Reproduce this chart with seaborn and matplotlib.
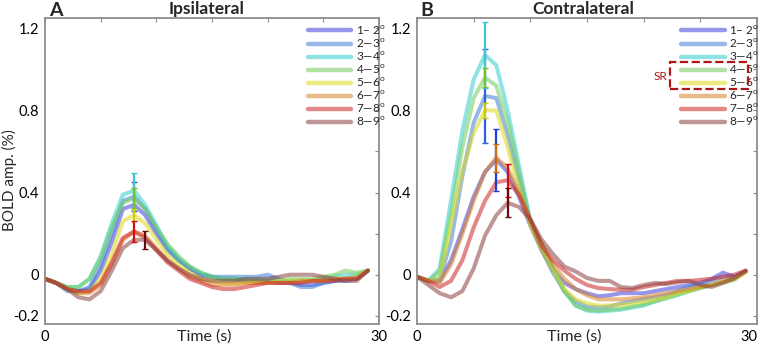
import numpy as np
import pandas as pd
import matplotlib
matplotlib.use("Agg")
import matplotlib.pyplot as plt
import seaborn as sns
from matplotlib.lines import Line2D
from matplotlib.patches import Rectangle

# ---------------- data ----------------
time = list(range(30))
bands = ["1-2", "2-3", "3-4", "4-5", "5-6", "6-7", "7-8", "8-9"]
legend_labels = ["1\u2013 2", "2\u20143", "3\u20144", "4\u20145", "5\u20146", "6\u20147", "7\u20148", "8\u20149"]

ipsi_12 = [-0.02,-0.04,-0.07,-0.08,-0.07,0.02,0.16,0.32,0.34,0.29, 0.20,0.12,0.07,0.03,0.00,-0.01,-0.02,-0.02,-0.03,-0.03, -0.03,-0.04,-0.04,-0.05,-0.05,-0.04,-0.03,-0.03,-0.02,0.02]
ipsi_23 = [-0.02,-0.04,-0.08,-0.08,-0.06,0.05,0.20,0.36,0.38,0.32, 0.22,0.13,0.07,0.03,0.00,-0.01,-0.01,-0.01,-0.01,-0.01, 0.00,-0.02,-0.04,-0.06,-0.06,-0.04,-0.03,-0.02,-0.01,0.02]
ipsi_34 = [-0.02,-0.04,-0.06,-0.06,-0.02,0.09,0.25,0.39,0.41,0.34, 0.24,0.14,0.08,0.04,0.01,-0.01,-0.02,-0.02,-0.02,-0.02, -0.02,-0.03,-0.03,-0.03,-0.03,-0.02,-0.01,0.00,0.00,0.02]
ipsi_45 = [-0.02,-0.04,-0.06,-0.06,-0.02,0.08,0.23,0.35,0.37,0.32, 0.23,0.15,0.09,0.04,0.01,-0.01,-0.02,-0.02,-0.03,-0.03, -0.03,-0.03,-0.02,-0.02,-0.02,-0.01,0.00,0.02,0.01,0.02]
ipsi_56 = [-0.02,-0.04,-0.07,-0.09,-0.08,-0.02,0.10,0.26,0.29,0.25, 0.17,0.10,0.05,0.01,-0.02,-0.03,-0.04,-0.04,-0.04,-0.04, -0.04,-0.03,-0.03,-0.03,-0.03,-0.03,-0.02,-0.02,-0.01,0.02]
ipsi_67 = [-0.02,-0.04,-0.07,-0.09,-0.09,-0.05,0.05,0.17,0.21,0.19, 0.13,0.07,0.03,-0.01,-0.03,-0.05,-0.05,-0.05,-0.04,-0.04, -0.04,-0.04,-0.04,-0.03,-0.03,-0.03,-0.02,-0.02,-0.02,0.02]
ipsi_78 = [-0.02,-0.04,-0.07,-0.08,-0.08,-0.04,0.06,0.18,0.21,0.18, 0.12,0.06,0.02,-0.02,-0.04,-0.06,-0.07,-0.07,-0.06,-0.05, -0.04,-0.04,-0.04,-0.04,-0.03,-0.03,-0.03,-0.02,-0.02,0.02]
ipsi_89 = [-0.02,-0.04,-0.07,-0.11,-0.12,-0.08,0.02,0.13,0.17,0.17, 0.12,0.07,0.03,0.00,-0.02,-0.03,-0.03,-0.03,-0.02,-0.02, -0.02,-0.01,0.00,0.00,0.00,-0.01,-0.02,-0.03,-0.03,0.02]

contra_12 = [-0.01,-0.03,-0.03,0.07,0.22,0.38,0.50,0.56,0.50,0.38, 0.24,0.12,0.02,-0.04,-0.07,-0.09,-0.105,-0.10,-0.09,-0.09, -0.09,-0.08,-0.07,-0.06,-0.05,-0.04,-0.02,0.01,-0.01,0.015]
contra_23 = [-0.01,-0.03,-0.02,0.16,0.48,0.74,0.87,0.86,0.68,0.46, 0.25,0.12,0.01,-0.08,-0.13,-0.155,-0.16,-0.155,-0.14,-0.13, -0.12,-0.11,-0.10,-0.08,-0.06,-0.045,-0.03,-0.01,-0.01,0.015]
contra_34 = [-0.01,-0.03,0.03,0.36,0.70,0.95,1.07,1.02,0.80,0.53, 0.26,0.15,0.03,-0.08,-0.15,-0.175,-0.18,-0.175,-0.17,-0.16, -0.15,-0.13,-0.115,-0.10,-0.08,-0.065,-0.05,-0.035,-0.02,0.015]
contra_45 = [-0.01,-0.03,0.015,0.29,0.62,0.86,0.96,0.92,0.74,0.50, 0.26,0.15,0.03,-0.08,-0.15,-0.17,-0.175,-0.17,-0.165,-0.155, -0.145,-0.13,-0.11,-0.095,-0.08,-0.065,-0.05,-0.04,-0.025,0.015]
contra_56 = [-0.01,-0.03,-0.02,0.24,0.50,0.69,0.80,0.80,0.62,0.42, 0.24,0.12,0.02,-0.07,-0.12,-0.14,-0.15,-0.15,-0.145,-0.14, -0.13,-0.12,-0.11,-0.09,-0.08,-0.06,-0.05,-0.035,-0.02,0.015]
contra_67 = [-0.01,-0.03,-0.04,0.05,0.20,0.36,0.50,0.57,0.52,0.40, 0.26,0.15,0.05,-0.02,-0.07,-0.10,-0.12,-0.12,-0.12,-0.115, -0.11,-0.10,-0.09,-0.08,-0.07,-0.06,-0.05,-0.03,-0.02,0.015]
contra_78 = [-0.01,-0.03,-0.06,-0.03,0.07,0.23,0.36,0.45,0.46,0.39, 0.27,0.14,0.07,0.02,-0.02,-0.05,-0.065,-0.07,-0.073,-0.073, -0.06,-0.05,-0.04,-0.03,-0.03,-0.025,-0.02,-0.01,0.00,0.02]
contra_89 = [-0.01,-0.05,-0.09,-0.11,-0.08,0.03,0.19,0.29,0.35,0.33, 0.27,0.17,0.10,0.04,0.016,-0.016,-0.03,-0.03,-0.06,-0.065, -0.05,-0.04,-0.045,-0.037,-0.03,-0.05,-0.06,-0.04,-0.016,0.02]

# error bars: band, time index, s.e.m.
ipsi_err_band = ["2-3", "3-4", "4-5", "5-6", "7-8", "8-9"]
ipsi_err_t    = [8, 8, 8, 8, 8, 9]
ipsi_err_sem  = [0.07, 0.085, 0.05, 0.03, 0.05, 0.045]
contra_err_band = ["2-3", "3-4", "4-5", "5-6", "1-2", "6-7", "7-8", "8-9"]
contra_err_t    = [6, 6, 6, 6, 7, 7, 8, 8]
contra_err_sem  = [0.23, 0.16, 0.045, 0.035, 0.15, 0.068, 0.08, 0.07]

# ---------------- styles ----------------
line_colors = ["#4040d9", "#4080d9", "#33cccc", "#73cc59", "#d9d91a", "#d98026", "#cc2626", "#8c4040"]
err_colors = {"1-2": "#1f3fd0", "2-3": "#2f5fdc", "3-4": "#40c4d0", "4-5": "#77c233",
              "5-6": "#d0c800", "6-7": "#d06a10", "7-8": "#cc1111", "8-9": "#6b0a0a"}

sns.set_style("white")
plt.rcParams["font.family"] = ["Lato", "DejaVu Sans"]
plt.rcParams["mathtext.fontset"] = "custom"
plt.rcParams["mathtext.sf"] = "Lato"
plt.rcParams["mathtext.rm"] = "Lato"

fig = plt.figure(figsize=(7.6, 3.44), dpi=100)
axA = fig.add_axes([45/760, 1-324/344, 334/760, 306/344])
axB = fig.add_axes([417/760, 1-324/344, 340/760, 306/344])

palette = dict(zip(bands, line_colors))


def draw(ax, series, eb, et, es, leg_x, xlab_x, last_right):
    df = pd.DataFrame({
        "time": np.tile(time, len(bands)),
        "amp": np.concatenate([series[b] for b in bands]),
        "band": np.repeat(bands, len(time)),
    })
    sns.lineplot(data=df, x="time", y="amp", hue="band", hue_order=bands,
                 palette=palette, estimator=None, lw=2.9, alpha=0.55,
                 legend=False, ax=ax)
    for b, t, s in zip(eb, et, es):
        v = series[b][t]
        ax.errorbar(time[t], v, yerr=s, color=err_colors[b], lw=1.6,
                    capsize=2.2, capthick=1.0, zorder=5)
    ax.set_xlim(0, 30)
    ax.set_ylim(-0.24, 1.25)
    yt = [-0.2, 0, 0.2, 0.4, 0.6, 0.8, 1.0, 1.2]
    ax.set_yticks(yt)
    ax.set_yticklabels(["-0.2", "0", "", "0.4", "", "0.8", "", "1.2"])
    ax.set_xticks(list(range(0, 31, 5)))
    ax.set_xticklabels(["0", "", "", "", "", "", "30"])
    if last_right:
        ax.get_xticklabels()[-1].set_horizontalalignment("right")
    for s in ax.spines.values():
        s.set_color("#8c8c8c")
        s.set_linewidth(1.3)
    ax.tick_params(direction="in", length=3, color="#8c8c8c", top=True, right=True,
                   labelsize=10.5, pad=4, labelcolor="black")
    ax.set_ylabel("")
    ax.set_xlabel("Time (s)", fontsize=11.5)
    ax.xaxis.set_label_coords(xlab_x, -0.018)
    handles = [Line2D([0], [0], color=c, lw=3.2, alpha=0.55) for c in line_colors]
    labels = [l + r"$^{\mathsf{o}}$" for l in legend_labels]
    ax.legend(handles, labels, loc="upper left", bbox_to_anchor=(leg_x, 0.982),
              frameon=False, fontsize=8.5, handlelength=3.7, handletextpad=0.4,
              labelspacing=0.0, borderaxespad=0, borderpad=0)


ipsi = dict(zip(bands, [ipsi_12, ipsi_23, ipsi_34, ipsi_45, ipsi_56, ipsi_67, ipsi_78, ipsi_89]))
contra = dict(zip(bands, [contra_12, contra_23, contra_34, contra_45, contra_56, contra_67, contra_78, contra_89]))

draw(axA, ipsi, ipsi_err_band, ipsi_err_t, ipsi_err_sem, 0.786, 0.476, False)
draw(axB, contra, contra_err_band, contra_err_t, contra_err_sem, 0.776, 0.462, True)

# SR box
axB.add_patch(Rectangle((0.744, 0.768), 0.23, 0.088, transform=axB.transAxes, fill=False,
                        ls="--", ec="#b01515", lw=1.6, zorder=6))
axB.text(0.715, 0.81, "SR", transform=axB.transAxes, color="#b01515", fontsize=8.5,
         ha="center", va="center")

fig.text(9/760, 1-180/344, "BOLD amp. (%)", rotation=90, ha="center", va="center", fontsize=11)
fig.text(207/760, 1-9/344, "Ipsilateral", ha="center", va="center", fontsize=12.5, fontweight="bold")
fig.text(583/760, 1-9/344, "Contralateral", ha="center", va="center", fontsize=12.5, fontweight="bold")
fig.text(49/760, 1-10/344, "A", ha="left", va="center", fontsize=14, fontweight="bold")
fig.text(420/760, 1-10/344, "B", ha="left", va="center", fontsize=14, fontweight="bold")

fig.savefig("out.png", dpi=100)
